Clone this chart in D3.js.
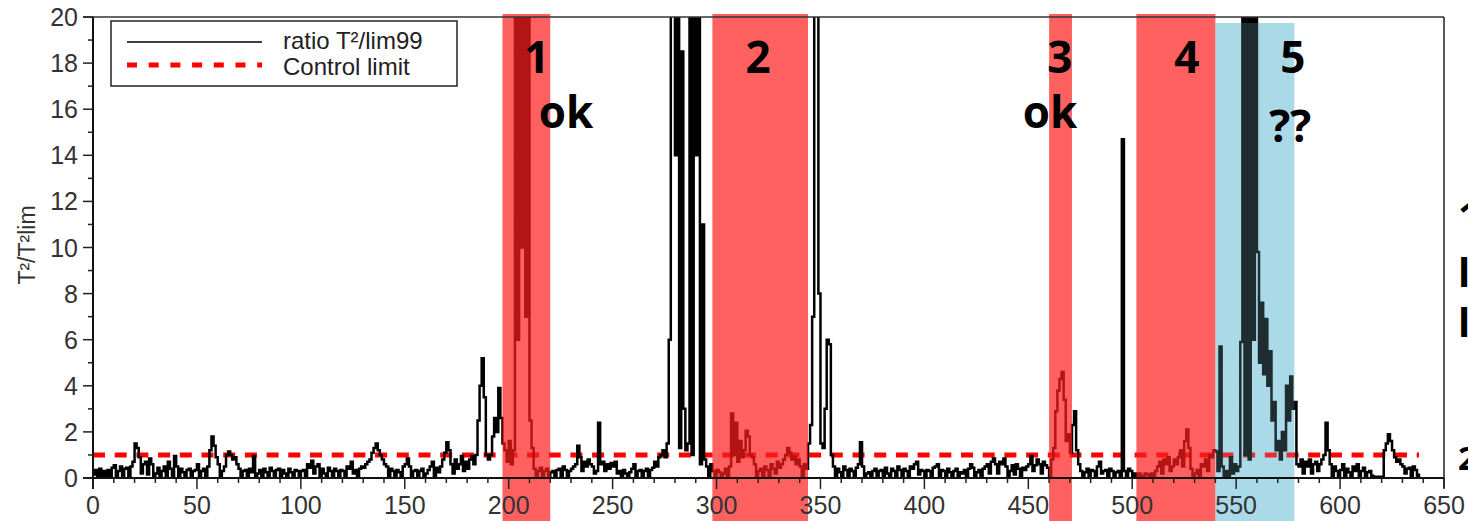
<!DOCTYPE html>
<html><head><meta charset="utf-8">
<script src="https://cdn.jsdelivr.net/npm/d3@7"></script>
<style>
html,body{margin:0;padding:0;background:#fff;}
svg{display:block;}
text{font-family:"Liberation Sans",Arial,sans-serif;}
</style></head>
<body>
<svg id="c" width="1468" height="521"></svg>
<script>
// ---------------- DATA ----------------
const ratio = [
0.15,0.35,0.05,0.4,0.1,0.3,0.05,0.35,0.1,0.45,
0.55,0.1,0.3,0.5,0.05,0.4,0.45,0.1,0.5,0.7,
1.5,1.3,0.9,0.2,0.6,0.7,0.15,0.85,0.6,0.1,
0.2,0.45,0.05,0.3,0.5,0.1,0.7,0.4,0.1,0.95,
0.5,0.1,0.4,0.25,0.05,0.35,0.4,0.05,0.3,0.35,
0.6,0.1,0.3,0.4,0.05,0.5,1.2,1.8,1.4,0.9,
0.6,0.05,0.3,0.5,1.0,1.15,1.0,0.8,0.9,0.6,
0.4,0.1,0.3,0.35,0.05,0.4,0.25,0.95,0.1,0.2,
0.35,0.05,0.4,0.25,0.1,0.45,0.3,0.05,0.35,0.4,
0.1,0.35,0.2,0.05,0.4,0.25,0.1,0.35,0.3,0.05,
0.3,0.35,0.1,0.6,0.45,0.75,0.2,0.5,0.6,0.1,
0.4,0.2,0.05,0.45,0.3,0.1,0.4,0.3,0.05,0.35,
0.3,0.1,0.5,0.4,0.7,0.2,0.35,0.05,0.4,0.5,
0.45,0.6,0.7,0.8,1.1,1.3,1.5,1.2,1.0,0.8,
0.6,0.5,0.1,0.4,0.3,0.05,0.35,0.25,0.1,0.5,
0.6,0.85,0.5,0.1,0.3,0.35,0.05,0.3,0.4,0.1,
0.2,0.35,0.5,0.7,0.1,0.45,0.25,0.5,0.8,1.1,
1.55,1.2,0.6,0.2,0.8,0.4,0.6,0.95,0.3,0.7,
0.4,0.8,0.95,0.6,1.0,2.5,4.0,5.2,3.5,1.0,
0.8,1.0,1.8,2.6,2.0,3.9,2.6,1.5,1.2,0.7,
1.6,0.6,1.2,22,6,22,10,22,7,20,
2.5,1.3,0.4,0.1,0.3,0.45,0.05,0.3,0.4,0.1,
0.25,0.3,0.05,0.35,0.4,0.1,0.5,0.35,0.05,0.3,
0.4,0.5,0.6,1.4,0.9,0.3,0.7,0.5,0.8,0.6,
0.5,0.2,0.3,2.4,0.6,0.7,0.3,0.6,0.4,0.65,
0.5,0.7,0.2,0.3,0.05,0.35,0.2,0.05,0.25,0.4,
0.6,0.1,0.3,0.35,0.05,0.3,0.4,0.1,0.35,0.45,
0.7,0.5,0.9,1.0,1.2,0.9,1.5,6,22,22,
14,22,1.3,18.5,3,1.2,1.5,22,1.0,22,
14,22,0.6,11,0.8,0.5,0.1,0.6,0.3,0.05,
0.35,0.25,0.05,0.2,0.4,0.1,0.5,2.8,1.0,2.4,
0.7,1.6,0.9,1.2,2.05,1.8,1.0,0.9,0.6,0.1,
0.3,0.4,0.05,0.5,0.35,0.1,0.6,0.4,0.2,0.7,
0.45,0.6,0.8,1.0,1.3,1.1,0.8,0.95,0.6,0.8,
0.5,0.1,0.6,0.4,1.5,2.3,7,22,22,8,
1.5,1.3,3,6,5.8,1.0,0.5,0.1,0.4,0.25,
0.05,0.5,0.35,0.1,0.4,0.3,0.05,0.45,0.6,1.55,
0.5,0.1,0.2,0.25,0.05,0.3,0.4,0.1,0.3,0.35,
0.05,0.45,0.2,0.1,0.4,0.3,0.05,0.5,0.35,0.1,
0.4,0.3,0.05,0.5,0.4,0.6,0.7,0.15,0.35,0.3,
0.05,0.35,0.3,0.1,0.45,0.5,0.6,0.1,0.35,0.3,
0.05,0.4,0.25,0.1,0.3,0.4,0.05,0.25,0.2,0.35,
0.1,0.4,0.6,0.45,0.1,0.25,0.35,0.05,0.4,0.5,
0.6,0.2,0.7,0.85,0.6,0.2,0.7,0.6,0.85,0.5,
0.1,0.3,0.55,0.15,0.6,0.4,0.1,0.45,0.35,0.5,
0.6,0.95,0.3,0.55,0.8,0.6,0.2,0.7,0.55,0.45,
0.1,0.8,1.3,2.9,3.8,4.3,4.6,3.4,1.6,1.9,
1.1,2.3,2.9,1.2,0.6,0.3,0.05,0.25,0.4,0.1,
0.35,0.3,0.05,0.5,0.7,0.2,0.3,0.35,0.05,0.4,
0.3,0.1,0.25,0.3,0.05,14.7,0.3,0.05,0.4,0.3,
0.1,0.2,0.05,0.2,0.1,0.05,0.2,0.15,0.05,0.2,
0.1,0.3,0.5,0.7,0.2,0.8,0.6,0.9,0.3,0.5,
0.8,0.6,0.9,1.2,0.5,1.6,2.1,1.3,0.4,0.1,
0.2,0.35,0.1,0.6,0.5,0.8,0.3,1.0,0.9,1.2,
1.15,0.3,5.7,0.5,0.1,0.3,0.05,0.9,0.2,0.6,
0.3,0.5,5.9,22,1.0,22,0.8,22,6,22,
9.8,5.0,7.6,4.5,6.9,4.0,5.5,2.5,3.3,1.2,
1.6,0.8,2.0,1.2,4.0,2.5,4.4,3.0,3.3,0.6,
0.5,0.8,0.2,0.7,0.5,0.8,0.2,0.6,0.7,0.3,
0.6,0.8,1.0,2.4,1.2,0.6,0.1,0.5,0.3,0.05,
0.35,0.6,0.1,0.4,0.25,0.05,0.5,0.3,0.6,0.1,
0.3,0.45,0.05,0.25,0.3,0.1,0.05,null,null,null,
null,1.2,1.5,1.9,1.6,1.2,0.9,0.7,0.8,0.6,
0.5,0.2,0.4,0.45,0.1,0.5,0.35,0.1,0.2
];
const controlLimit = 1;
const controlRange = [0, 638];

const regionStart = [197, 298, 460, 502, 540];
const regionEnd   = [220, 344, 471, 540, 578];
const regionKind  = ["red", "red", "red", "red", "blue"];

const annoText = ["1", "ok", "2", "3", "ok", "4", "5", "??"];
const annoX    = [213.6, 227.6, 320, 465.2, 460.4, 526.3, 577.3, 576];
const annoY    = [17.57, 15.2, 17.57, 17.57, 15.2, 17.57, 17.57, 14.57];

const xTicks = [0,50,100,150,200,250,300,350,400,450,500,550,600,650];
const yTicks = [0,2,4,6,8,10,12,14,16,18,20];

const legendLabels = ["ratio T\u00B2/lim99", "Control limit"];
const yTitle = "T\u00B2/T\u00B2lim";
const edgeText = ["1", "l", "l", "2"];

// ---------------- CHART ----------------
const svg = d3.select("#c");
const L = 93, R = 1444, T = 17, B = 478;
const x = d3.scaleLinear().domain([0, 650]).range([L, R]);
const y = d3.scaleLinear().domain([0, 20]).range([B, T]);

svg.append("defs").append("clipPath").attr("id","plot")
  .append("rect").attr("x", L).attr("y", T).attr("width", R - L).attr("height", B - T);

// blue region background (under the line)
regionStart.forEach((s, i) => {
  if (regionKind[i] !== "blue") return;
  svg.append("rect")
    .attr("x", x(s)).attr("width", x(regionEnd[i]) - x(s))
    .attr("y", 23).attr("height", 521 - 23)
    .attr("fill", "#b3dde9");
});

// control limit
svg.append("line")
  .attr("x1", x(controlRange[0])).attr("x2", x(controlRange[1]))
  .attr("y1", y(controlLimit)).attr("y2", y(controlLimit))
  .attr("stroke", "#ff0000").attr("stroke-width", 5)
  .attr("stroke-dasharray", "12,9.7");

// series line
const pts = ratio.map((v, i) => [i, v]).filter(d => d[1] !== null);
svg.append("path")
  .attr("clip-path", "url(#plot)")
  .attr("d", d3.line().x(d => x(d[0])).y(d => y(d[1])).curve(d3.curveStepAfter)(pts))
  .attr("fill", "none").attr("stroke", "#000").attr("stroke-width", 2.5)
  .attr("stroke-linejoin", "miter");

// shaded regions (over the line)
regionStart.forEach((s, i) => {
  const red = regionKind[i] === "red";
  svg.append("rect")
    .attr("x", x(s)).attr("width", x(regionEnd[i]) - x(s))
    .attr("y", red ? 14 : 23).attr("height", 521 - (red ? 14 : 23))
    .attr("fill", red ? "#ff1e1e" : "#8ccbe0")
    .attr("opacity", red ? 0.7 : 0.22);
});

// axes
const ax = svg.append("g").attr("font-size", 25).attr("fill", "#333");
ax.append("line").attr("x1", L - 10).attr("x2", R).attr("y1", T).attr("y2", T).attr("stroke", "#333").attr("stroke-width", 1.5);
ax.append("line").attr("x1", R).attr("x2", R).attr("y1", T).attr("y2", B + 10).attr("stroke", "#222").attr("stroke-width", 1.5);
ax.append("line").attr("x1", L).attr("x2", L).attr("y1", T).attr("y2", B + 11).attr("stroke", "#111").attr("stroke-width", 2);
ax.append("line").attr("x1", L - 10).attr("x2", R).attr("y1", B).attr("y2", B).attr("stroke", "#111").attr("stroke-width", 2);

d3.range(0, 21, 1).forEach(v => {
  const major = v % 2 === 0;
  ax.append("line").attr("x1", L - (major ? 10 : 5)).attr("x2", L)
    .attr("y1", y(v)).attr("y2", y(v)).attr("stroke", "#222").attr("stroke-width", 1.5);
});
yTicks.forEach(v => {
  ax.append("text").attr("x", L - 15).attr("y", y(v)).attr("dy", "0.36em")
    .attr("text-anchor", "end").text(v);
});
d3.range(0, 651, 10).forEach(v => {
  const major = v % 50 === 0;
  ax.append("line").attr("x1", x(v)).attr("x2", x(v))
    .attr("y1", B).attr("y2", B + (major ? 11 : 5)).attr("stroke", "#222").attr("stroke-width", 1.5);
});
xTicks.forEach(v => {
  ax.append("text").attr("x", x(v)).attr("y", 514)
    .attr("text-anchor", "middle").attr("font-size", 25).text(v);
});

// y title
svg.append("text").attr("transform", `translate(35,245) rotate(-90)`)
  .attr("text-anchor", "middle").attr("font-size", 23).attr("fill", "#333").text(yTitle);

// legend
const lg = svg.append("g");
lg.append("rect").attr("x", 111).attr("y", 21).attr("width", 346).attr("height", 65)
  .attr("fill", "#fff").attr("stroke", "#222").attr("stroke-width", 1.5);
lg.append("line").attr("x1", 127).attr("x2", 262).attr("y1", 42).attr("y2", 42)
  .attr("stroke", "#000").attr("stroke-width", 1.5);
lg.append("line").attr("x1", 127).attr("x2", 262).attr("y1", 65).attr("y2", 65)
  .attr("stroke", "#ff0000").attr("stroke-width", 5).attr("stroke-dasharray", "10,11.7");
lg.append("text").attr("x", 283).attr("y", 49).attr("font-size", 24).attr("fill", "#222").text(legendLabels[0]);
lg.append("text").attr("x", 283).attr("y", 75).attr("font-size", 24).attr("fill", "#222").text(legendLabels[1]);

// annotations
annoText.forEach((t, i) => {
  svg.append("text").attr("x", x(annoX[i])).attr("y", y(annoY[i]))
    .attr("text-anchor", "middle")
    .style("font-family", "'Open Sans','Noto Sans',sans-serif")
    .attr("font-weight", 700).attr("font-size", 44).attr("fill", "#000").text(t);
});

// cut-off text at right edge
const edgeY = [230, 287, 337, 470];
edgeText.forEach((t, i) => {
  svg.append("text").attr("x", 1458).attr("y", edgeY[i])
    .style("font-family", "'Open Sans','Noto Sans',sans-serif")
    .attr("font-weight", 700).attr("font-size", i === 3 ? 32 : 40).attr("fill", "#000").text(t);
});
</script>
</body></html>
